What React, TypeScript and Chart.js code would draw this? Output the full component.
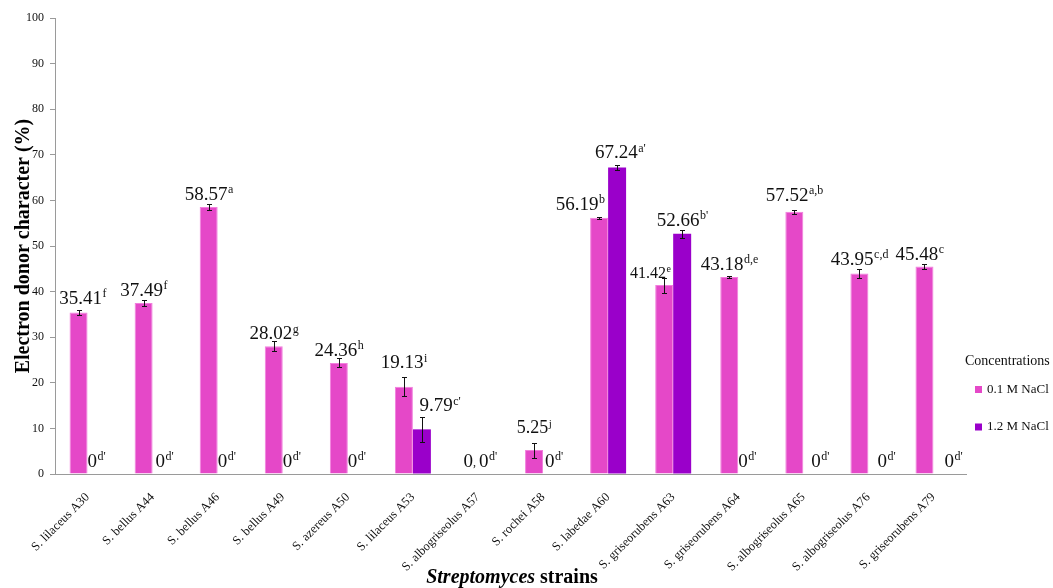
import React, { useEffect, useRef } from "react";
import { Chart, registerables } from "chart.js";

Chart.register(...registerables);

const categories = [
  "S. lilaceus A30", "S. bellus A44", "S. bellus A46", "S. bellus A49", "S. azereus A50",
  "S. lilaceus A53", "S. albogriseolus A57", "S. rochei A58", "S. labedae A60",
  "S. griseorubens A63", "S. griseorubens A64", "S. albogriseolus A65",
  "S. albogriseolus A76", "S. griseorubens A79",
];
const nacl01 = [35.41, 37.49, 58.57, 28.02, 24.36, 19.13, 0, 5.25, 56.19, 41.42, 43.18, 57.52, 43.95, 45.48];
const nacl12 = [0, 0, 0, 0, 0, 9.79, 0, 0, 67.24, 52.66, 0, 0, 0, 0];
const err01 = [0.65, 0.7, 0.6, 1.1, 1.0, 2.1, 0, 1.65, 0.2, 1.65, 0.2, 0.4, 0.9, 0.5];
const err12 = [0, 0, 0, 0, 0, 2.8, 0, 0, 0.55, 0.85, 0, 0, 0, 0];
const letters01 = ["f", "f", "a", "g", "h", "i", ",", "j", "b", "e", "d,e", "a,b", "c,d", "c"];
const letters12 = ["d'", "d'", "d'", "d'", "d'", "c'", "d'", "d'", "a'", "b'", "d'", "d'", "d'", "d'"];
const yTicks = [0, 10, 20, 30, 40, 50, 60, 70, 80, 90, 100];
const seriesNames = ["0.1 M NaCl", "1.2 M NaCl"];

// label placement tweaks (pixels), styling only
const dx01 = [4, 0, 0, 0, 0, 0, 0, 0, -19, -14, 0, 0, 0, -5];
const gap01 = [12, 10, 10.5, 8, 9, 15, 0, 15, 13, 5, 12.5, 15, 10.6, 11];
const size01 = [19, 19, 19, 19, 19, 19, 19, 18, 19, 16, 19, 19, 19, 19];
const dx12 = [0, 3, 0, 0, 0, 18, 1, 2, 3, 0, 0, 8, 9, 11];
const gap12 = [0, 0, 0, 0, 0, 11.5, 0, 0, 12.7, 10, 0, 0, 0, 0];

const PINK = "#E548C8";
const PURPLE = "#9A00CA";
const SERIF = "'Liberation Serif', 'Times New Roman', serif";

function drawSupLabel(ctx: CanvasRenderingContext2D, x: number, baseline: number, main: string, sup: string, size: number, align: "center" | "left") {
  ctx.font = `${size}px ${SERIF}`;
  const wMain = ctx.measureText(main).width;
  const supSize = Math.round(size * 0.63);
  ctx.font = `${supSize}px ${SERIF}`;
  const wSup = ctx.measureText(sup).width;
  const start = align === "center" ? x - (wMain + wSup) / 2 : x;
  ctx.textAlign = "left";
  ctx.textBaseline = "alphabetic";
  ctx.fillStyle = "#111";
  ctx.font = `${size}px ${SERIF}`;
  ctx.fillText(main, start, baseline);
  ctx.font = `${supSize}px ${SERIF}`;
  ctx.fillText(sup, start + wMain + 0.5, baseline - size * 0.36);
}

const overlay = {
  id: "overlay",
  afterDatasetsDraw(chart: any) {
    const ctx: CanvasRenderingContext2D = chart.ctx;
    const ys = chart.scales.y;
    const m0 = chart.getDatasetMeta(0);
    const m1 = chart.getDatasetMeta(1);
    const y0 = ys.getPixelForValue(0);
    ctx.save();
    // error bars
    ctx.strokeStyle = "#111";
    ctx.lineWidth = 1;
    const groups: [any, number[], number[]][] = [[m0, nacl01, err01], [m1, nacl12, err12]];
    groups.forEach(([meta, vals, errs]) => {
      meta.data.forEach((bar: any, i: number) => {
        const e = errs[i];
        if (!e || !vals[i]) return;
        const x = Math.round(bar.x) + 0.5;
        const yt = Math.round(ys.getPixelForValue(vals[i] + e)) + 0.5;
        const yb = Math.round(ys.getPixelForValue(vals[i] - e)) + 0.5;
        ctx.beginPath();
        ctx.moveTo(x, yt); ctx.lineTo(x, yb);
        ctx.moveTo(x - 2.5, yt); ctx.lineTo(x + 2.5, yt);
        ctx.moveTo(x - 2.5, yb); ctx.lineTo(x + 2.5, yb);
        ctx.stroke();
      });
    });
    // labels
    m0.data.forEach((bar: any, i: number) => {
      const v = nacl01[i];
      if (v > 0) {
        const top = ys.getPixelForValue(v + err01[i]);
        const size = size01[i];
        const baseline = top - gap01[i] + size * 0.33;
        drawSupLabel(ctx, bar.x + dx01[i], baseline, v.toFixed(2), letters01[i], size, "center");
      } else {
        drawSupLabel(ctx, bar.x - 5.5, y0 - 7, "0", "", 19, "left");
        ctx.font = `12px ${SERIF}`;
        ctx.fillText(letters01[i], bar.x + 4, y0 - 8);
      }
    });
    m1.data.forEach((bar: any, i: number) => {
      const v = nacl12[i];
      if (v > 0) {
        const top = ys.getPixelForValue(v + err12[i]);
        const baseline = top - gap12[i] + 19 * 0.33;
        drawSupLabel(ctx, bar.x + dx12[i], baseline, v.toFixed(2), letters12[i], 19, "center");
      } else {
        drawSupLabel(ctx, bar.x - bar.width / 2 + dx12[i], y0 - 7, "0", letters12[i], 19, "left");
      }
    });
    ctx.restore();
  },
  afterDraw(chart: any) {
    const ctx: CanvasRenderingContext2D = chart.ctx;
    ctx.save();
    ctx.fillStyle = "#111";
    ctx.textBaseline = "middle";
    ctx.textAlign = "left";
    ctx.font = `14px ${SERIF}`;
    ctx.fillText("Concentrations", 965, 361);
    const items = [[seriesNames[0], PINK, 389.5], [seriesNames[1], PURPLE, 427]] as [string, string, number][];
    items.forEach(([t, c, yy]) => {
      ctx.fillStyle = c;
      ctx.fillRect(975, yy - 3.5, 7, 7);
      ctx.fillStyle = "#111";
      ctx.font = `13px ${SERIF}`;
      ctx.fillText(t, 987, yy);
    });
    // x axis title
    ctx.textBaseline = "alphabetic";
    ctx.font = `italic bold 20px ${SERIF}`;
    const w1 = ctx.measureText("Streptomyces").width;
    ctx.font = `bold 20px ${SERIF}`;
    const w2 = ctx.measureText(" strains").width;
    const sx = 512 - (w1 + w2) / 2;
    ctx.font = `italic bold 20px ${SERIF}`;
    ctx.fillStyle = "#000";
    ctx.fillText("Streptomyces", sx, 583);
    ctx.font = `bold 20px ${SERIF}`;
    ctx.fillText(" strains", sx + w1, 583);
    ctx.restore();
  },
};

export default function App() {
  const ref = useRef<HTMLCanvasElement | null>(null);
  useEffect(() => {
    if (!ref.current) return;
    const chart = new Chart(ref.current, {
      type: "bar",
      data: {
        labels: categories,
        datasets: [
          { label: seriesNames[0], data: nacl01, backgroundColor: PINK, borderColor: "#F27EDD", borderWidth: 1, categoryPercentage: 0.553, barPercentage: 1 },
          { label: seriesNames[1], data: nacl12, backgroundColor: PURPLE, borderColor: "#A41AD2", borderWidth: 0, categoryPercentage: 0.553, barPercentage: 1 },
        ],
      },
      options: {
        responsive: false,
        animation: false,
        events: [],
        layout: { padding: { top: 18, right: 87, left: 0, bottom: 0 } },
        plugins: { legend: { display: false }, tooltip: { enabled: false } },
        scales: {
          x: {
            grid: { display: false },
            border: { display: true, color: "#9a9a9a", width: 1 },
            ticks: {
              autoSkip: false, maxRotation: 45, minRotation: 45, padding: 8,
              color: "#111", font: { family: SERIF, size: 12.5 },
            },
            afterFit: (s: any) => { s.height = 114; },
          },
          y: {
            min: 0, max: 100,
            afterBuildTicks: (s: any) => { s.ticks = yTicks.map((v) => ({ value: v })); },
            grid: { display: true, drawOnChartArea: false, tickLength: 5, color: "#9a9a9a" },
            border: { display: true, color: "#9a9a9a", width: 1 },
            ticks: { color: "#111", padding: 6, font: { family: SERIF, size: 12 } },
            title: { display: true, text: "Electron donor character (%)", color: "#000", font: { family: SERIF, size: 20, weight: "bold" }, padding: { top: 12, bottom: 0 } },
            afterFit: (s: any) => { s.width = 55; },
          },
        },
      },
      plugins: [overlay],
    });
    return () => chart.destroy();
  }, []);
  return (
    <div style={{ position: "fixed", left: 0, top: 0, width: 1053, height: 588, background: "#fff" }}>
      <canvas ref={ref} width={1053} height={588} style={{ width: 1053, height: 588 }} />
    </div>
  );
}
